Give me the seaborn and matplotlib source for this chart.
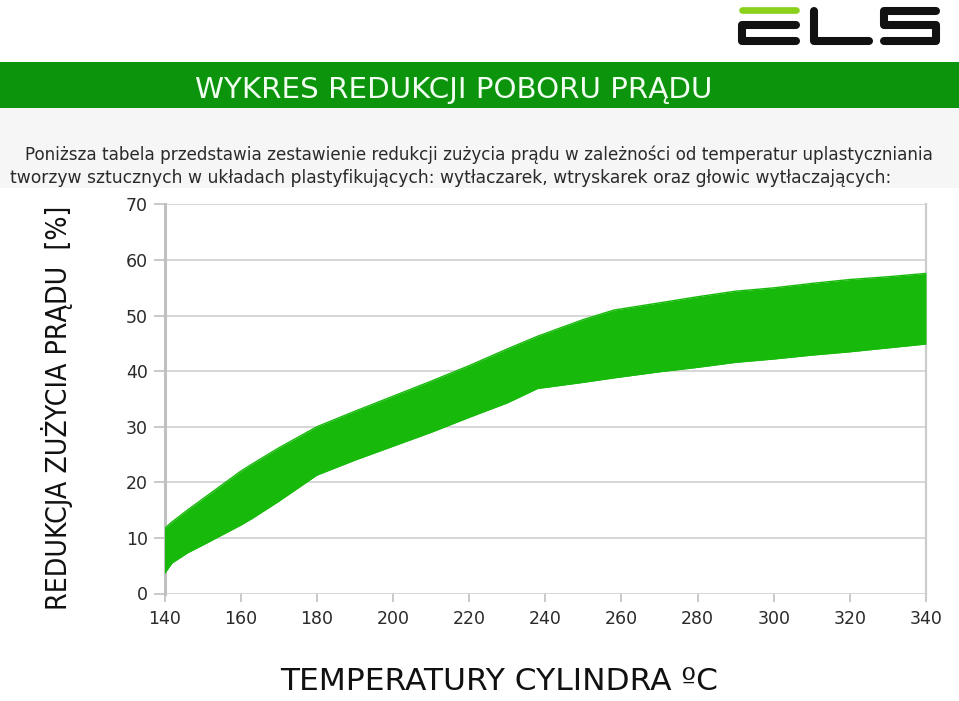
import numpy as np
import pandas as pd
import matplotlib
matplotlib.use("Agg")
import matplotlib.pyplot as plt
from matplotlib import font_manager
from matplotlib.patches import Rectangle
import seaborn as sns

# ---------------- data ----------------
temperature = [140, 142, 146, 150, 160, 163, 170, 180, 190, 200, 210, 220, 230,
               238, 250, 258, 270, 280, 290, 300, 310, 320, 330, 340]
upper = [11.7, 12.9, 15.0, 17.0, 22.0, 23.3, 26.2, 30.0, 32.8, 35.5, 38.2, 41.0,
         44.0, 46.3, 49.3, 51.0, 52.3, 53.4, 54.4, 55.0, 55.8, 56.5, 57.0, 57.6]
lower = [3.6, 5.5, 7.3, 8.7, 12.3, 13.5, 16.6, 21.3, 24.0, 26.5, 29.0, 31.7,
         34.3, 36.9, 38.0, 38.8, 39.9, 40.7, 41.6, 42.2, 42.9, 43.5, 44.2, 44.9]
x_ticks = [140, 160, 180, 200, 220, 240, 260, 280, 300, 320, 340]
y_ticks = [0, 10, 20, 30, 40, 50, 60, 70]

title = "WYKRES REDUKCJI POBORU PRĄDU"
para1 = ("Poniższa tabela przedstawia zestawienie redukcji zużycia prądu "
         "w zależności od temperatur uplastyczniania")
para2 = ("tworzyw sztucznych w układach plastyfikujących: wytłaczarek, "
         "wtryskarek oraz głowic wytłaczających:")
xlabel = "TEMPERATURY CYLINDRA ºC"
ylabel = "REDUKCJA ZUŻYCIA PRĄDU  [%]"

df = pd.DataFrame({"temp": temperature, "upper": upper, "lower": lower})

sns.set_theme(style="white")
names = {f.name for f in font_manager.fontManager.ttflist}
narrow = "Liberation Sans Narrow" if "Liberation Sans Narrow" in names else "DejaVu Sans"
plt.rcParams["font.family"] = ["DejaVu Sans"]

W, H = 959, 701
fig = plt.figure(figsize=(W / 100, H / 100), dpi=100)
fig.patch.set_facecolor("white")

# overlay in pixel coordinates (y downward)
ov = fig.add_axes([0, 0, 1, 1], zorder=0)
ov.set_xlim(0, W)
ov.set_ylim(H, 0)
ov.axis("off")
ov.add_patch(Rectangle((0, 108), W, 80, facecolor="#f6f6f6", edgecolor="none"))
ov.add_patch(Rectangle((0, 62.3), W, 45.4, facecolor="#0d940d", edgecolor="none"))

# logo ELS
lw = 5.8
ov.plot([742, 796], [10.3, 10.3], color="#8bd11b", lw=4.8, solid_capstyle="round")
ov.plot([796, 742, 742, 796], [25, 25, 41, 41], color="#111111", lw=lw,
        solid_capstyle="round", solid_joinstyle="round")
ov.plot([814, 814, 869], [11, 41, 41], color="#111111", lw=lw,
        solid_capstyle="round", solid_joinstyle="round")
ov.plot([936, 884, 884, 936, 936, 884], [11, 11, 25, 25, 41, 41], color="#111111",
        lw=lw, solid_capstyle="round", solid_joinstyle="round")

t_title = ov.text(454, 97.5, title, color="#f0fff0", ha="center", va="baseline",
                  fontsize=20)
t_p1 = ov.text(25, 159.5, para1, color="#2a2a2a", ha="left", va="baseline",
               fontsize=10)
t_p2 = ov.text(10, 183.0, para2, color="#2a2a2a", ha="left", va="baseline",
               fontsize=10)

# main plot
left, right, top, bottom = 164.5, 926, 204.5, 593.5
ax = fig.add_axes([left / W, (H - bottom) / H, (right - left) / W, (bottom - top) / H],
                  zorder=1)
ax.set_facecolor("white")
band = "#17b90b"
ax.fill_between(df["temp"], df["lower"], df["upper"], color=band, lw=0, zorder=3)
sns.lineplot(data=df, x="temp", y="upper", ax=ax, color=band, lw=1, zorder=3)
sns.lineplot(data=df, x="temp", y="lower", ax=ax, color=band, lw=1, zorder=3)
ax.set_xlim(140, 340)
ax.set_ylim(0, 70)
ax.set_xticks(x_ticks)
ax.set_yticks(y_ticks)
ax.grid(axis="y", color="#cccccc", lw=1.1, zorder=0)
ax.set_axisbelow(True)
for s in ["top", "bottom"]:
    ax.spines[s].set_visible(False)
ax.spines["left"].set_color("#c0c0c0")
ax.spines["left"].set_linewidth(2.2)
ax.spines["right"].set_color("#cccccc")
ax.spines["right"].set_linewidth(1.6)
ax.tick_params(axis="x", bottom=True, length=6, width=1.2, color="#c0c0c0",
               labelsize=12.5, labelcolor="#2a2a2a", pad=6)
ax.tick_params(axis="y", left=True, length=8, width=1.2, color="#c0c0c0",
               labelsize=12.5, labelcolor="#2a2a2a", pad=4)
ax.set_xlabel(xlabel, fontsize=20, color="#111111", va="center")
ax.xaxis.set_label_coords((499 - left) / (right - left), (bottom - 681) / (bottom - top))
ax.set_ylabel(ylabel, fontsize=20, color="#111111", va="center", ha="center",
              family=[narrow, "DejaVu Sans"], fontstretch="condensed")
ax.yaxis.set_label_coords((57 - left) / (right - left), (bottom - 407.5) / (bottom - top))

# fit text sizes to measured extents
def fit(t, target, vertical=False):
    for _ in range(3):
        fig.canvas.draw()
        bb = t.get_window_extent(fig.canvas.get_renderer())
        size = bb.height if vertical else bb.width
        t.set_fontsize(t.get_fontsize() * target / size)

fit(t_title, 712 - 196)
fit(t_p1, 927 - 25)
fit(t_p2, 885 - 10)
fit(ax.xaxis.label, 718 - 280)
fit(ax.yaxis.label, 610 - 205, vertical=True)

fig.savefig("out.png", dpi=100, facecolor="white")
